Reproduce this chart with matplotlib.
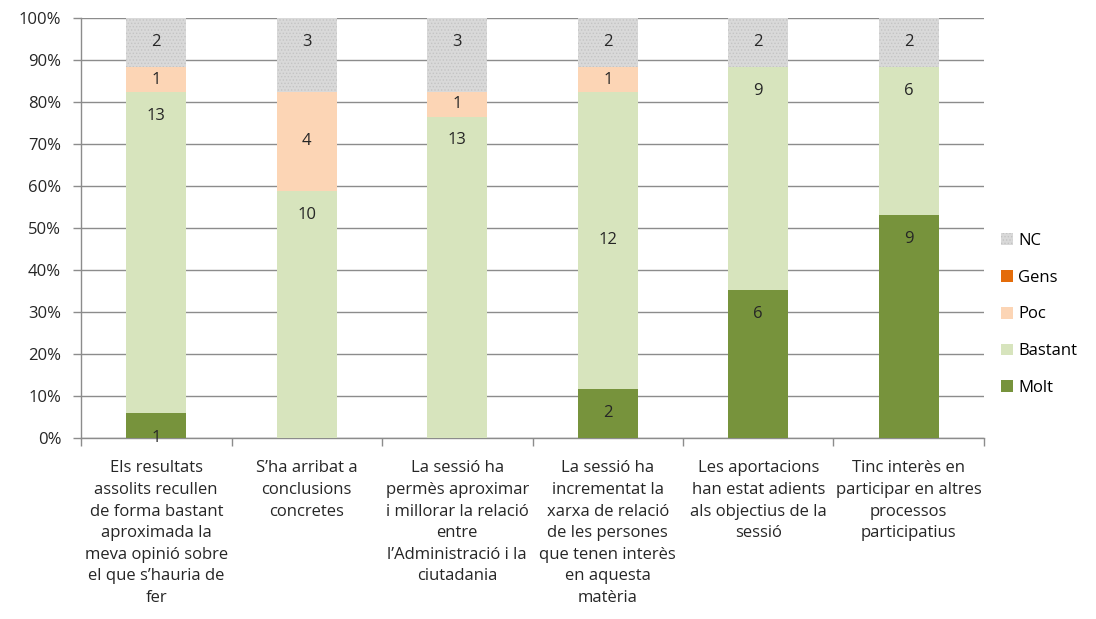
import numpy as np
import matplotlib.pyplot as plt
from matplotlib.ticker import PercentFormatter

plt.rcParams['font.family'] = ['Open Sans', 'DejaVu Sans']
plt.rcParams['hatch.linewidth'] = 0.6

# Data
categories = [
    "Els resultats\nassolits recullen\nde forma bastant\naproximada la\nmeva opinió sobre\nel que s’hauria de\nfer",
    "S’ha arribat a\nconclusions\nconcretes",
    "La sessió ha\npermès aproximar\ni millorar la relació\nentre\nl’Administració i la\nciutadania",
    "La sessió ha\nincrementat la\nxarxa de relació\nde les persones\nque tenen interès\nen aquesta\nmatèria",
    "Les aportacions\nhan estat adients\nals objectius de la\nsessió",
    "Tinc interès en\nparticipar en altres\nprocessos\nparticipatius",
]
molt = [1, 0, 0, 2, 6, 9]
bastant = [13, 10, 13, 12, 9, 6]
poc = [1, 4, 1, 1, 0, 0]
gens = [0, 0, 0, 0, 0, 0]
nc = [2, 3, 3, 2, 2, 2]

# where each data label sits in its segment: b = base, c = centre, e = inside end
label_pos = {
    "Molt":    ['b', 'c', 'c', 'c', 'e', 'e'],
    "Bastant": ['e', 'e', 'e', 'c', 'e', 'e'],
    "Poc":     ['c', 'c', 'c', 'c', 'c', 'c'],
    "Gens":    ['c', 'c', 'c', 'c', 'c', 'c'],
    "NC":      ['e', 'e', 'e', 'e', 'e', 'e'],
}

series = [("Molt", molt, "#77933C"),
          ("Bastant", bastant, "#D7E4BD"),
          ("Poc", poc, "#FCD5B5"),
          ("Gens", gens, "#E46C0A"),
          ("NC", nc, "#D9D9D9")]

totals = np.sum([np.array(s[1]) for s in series], axis=0)
x = np.arange(len(categories))

fig = plt.figure(figsize=(10.96, 6.19), dpi=100)
ax = fig.add_axes([81 / 1096, 0.2924, 903 / 1096, 0.679])

bottom = np.zeros(len(categories))
handles = []
for name, vals, color in series:
    pct = np.array(vals) / totals * 100
    if name == "NC":
        bars = ax.bar(x, pct, 0.40, bottom=bottom, color=color, hatch='.....',
                      edgecolor='#C4C4C4', linewidth=0, zorder=3, label=name)
    else:
        bars = ax.bar(x, pct, 0.40, bottom=bottom, color=color, linewidth=0,
                      zorder=3, label=name)
    for i, v in enumerate(vals):
        if v == 0:
            continue
        mode = label_pos[name][i]
        if mode == 'e':
            y, dy = bottom[i] + pct[i], -17.2
        elif mode == 'b':
            y, dy = bottom[i], 0
        else:
            y, dy = bottom[i] + pct[i] / 2, 0
        ax.annotate(str(v), (x[i], y), xytext=(0, dy), textcoords='offset points',
                    ha='center', va='center', fontsize=12, color='#262626',
                    zorder=4)
    handles.append(bars)
    bottom += pct

ax.set_xlim(-0.5, len(categories) - 0.5)
ax.set_ylim(0, 100)
ax.set_yticks(np.arange(0, 101, 10))
ax.yaxis.set_major_formatter(PercentFormatter(decimals=0))
ax.grid(axis='y', color='#8C8C8C', linewidth=1.0, zorder=0)
ax.set_axisbelow(True)

ax.set_xticks(x)
ax.set_xticklabels(categories, fontsize=12, color='#262626', linespacing=1.47, va='top')
ax.tick_params(axis='x', which='major', length=0, pad=16)
ax.set_xticks(np.arange(-0.5, len(categories), 1), minor=True)
ax.tick_params(axis='x', which='minor', length=6, color='#8C8C8C', width=1)
ax.tick_params(axis='y', length=5.8, color='#8C8C8C', width=1, labelsize=12,
               labelcolor='#262626', pad=8.5)

for s in ['top', 'right']:
    ax.spines[s].set_visible(False)
for s in ['left', 'bottom']:
    ax.spines[s].set_color('#8C8C8C')
    ax.spines[s].set_linewidth(1)

leg = fig.legend(handles[::-1], [s[0] for s in series][::-1], loc='center left',
                 bbox_to_anchor=(0.9, 0.492), frameon=False, fontsize=12,
                 handlelength=0.72, handleheight=0.72, handletextpad=0.3,
                 labelspacing=1.25)

fig.savefig("out.png", dpi=100)
